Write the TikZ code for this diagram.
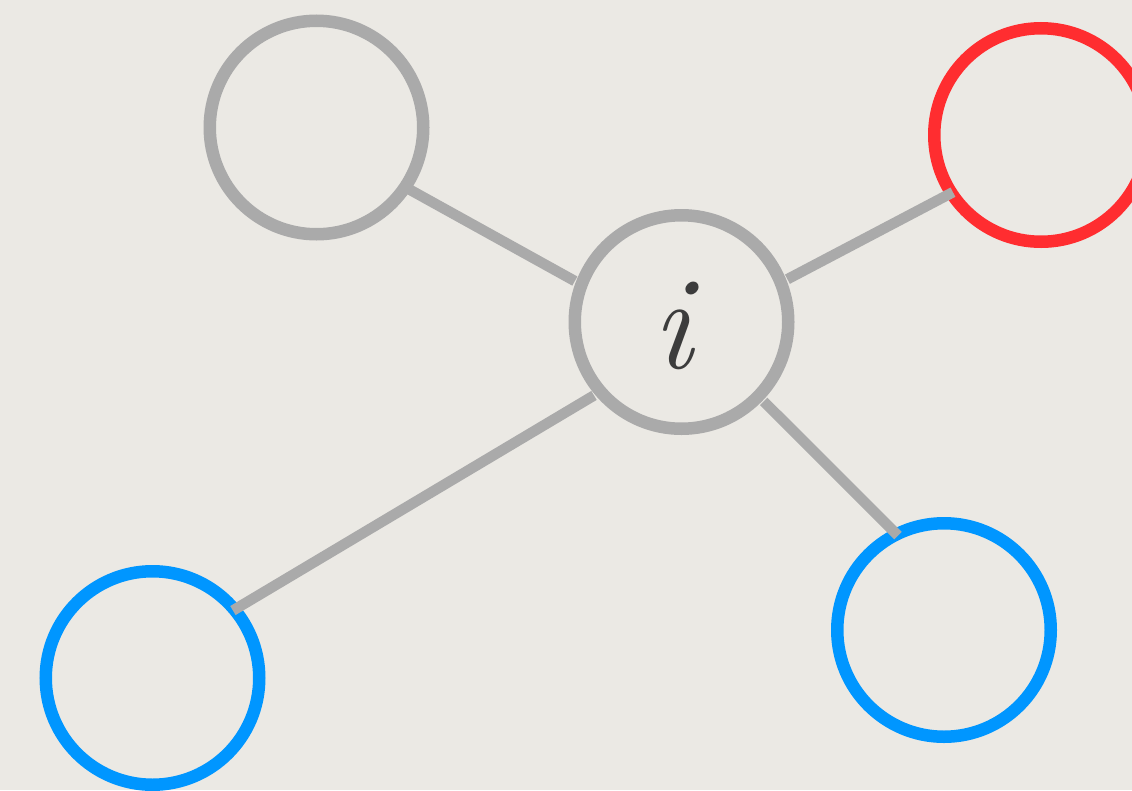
\documentclass[tikz,border=0pt]{standalone}
\usepackage{tikz}
\definecolor{paper}{RGB}{235,233,228}
\definecolor{ringgray}{RGB}{170,170,170}
\definecolor{ringred}{RGB}{255,45,48}
\definecolor{ringblue}{RGB}{0,150,255}
\definecolor{inkgray}{RGB}{60,60,60}
\tikzset{
  ring/.style={circle, draw=#1, line width=12.5pt, minimum size=213.5pt, inner sep=0pt, outer sep=-1.75pt},
  hubring/.style={circle, draw=ringgray, line width=12.5pt, minimum size=213.5pt, inner sep=0pt, outer sep=7.5pt},
  edge/.style={draw=ringgray, line width=10.5pt, line cap=butt},
  label/.style={text=inkgray, inner sep=0pt, font=\fontsize{133}{133}\selectfont\itshape}
}
\begin{document}
\begin{tikzpicture}[x=1pt,y=-1pt]
  \fill[paper] (0,0) rectangle (1132,790);
  \useasboundingbox (0,0) rectangle (1132,790);
  \begin{scope}
    \clip (0,0) rectangle (1132,790);
    \node[ring=ringgray] (tl) at (316.5,127.5) {};
    \node[ring=ringred] (tr) at (1041,135) {};
    \node[ring=ringblue] (bl) at (152.5,678) {};
    \node[ring=ringblue] (br) at (944,630) {};
    \node[hubring] (c) at (681.5,322) {};
    \node[label] (lab) at (672,326) {i};
    \path[edge] (c.159.3) -- (tl.-34.6);
    \path[edge] (c.22.4) -- (tr.213);
    \path[edge] (c.220.5) -- (bl.40.8);
    \path[edge] (c.-44.6) -- (br.116.8);
  \end{scope}
\end{tikzpicture}
\end{document}
